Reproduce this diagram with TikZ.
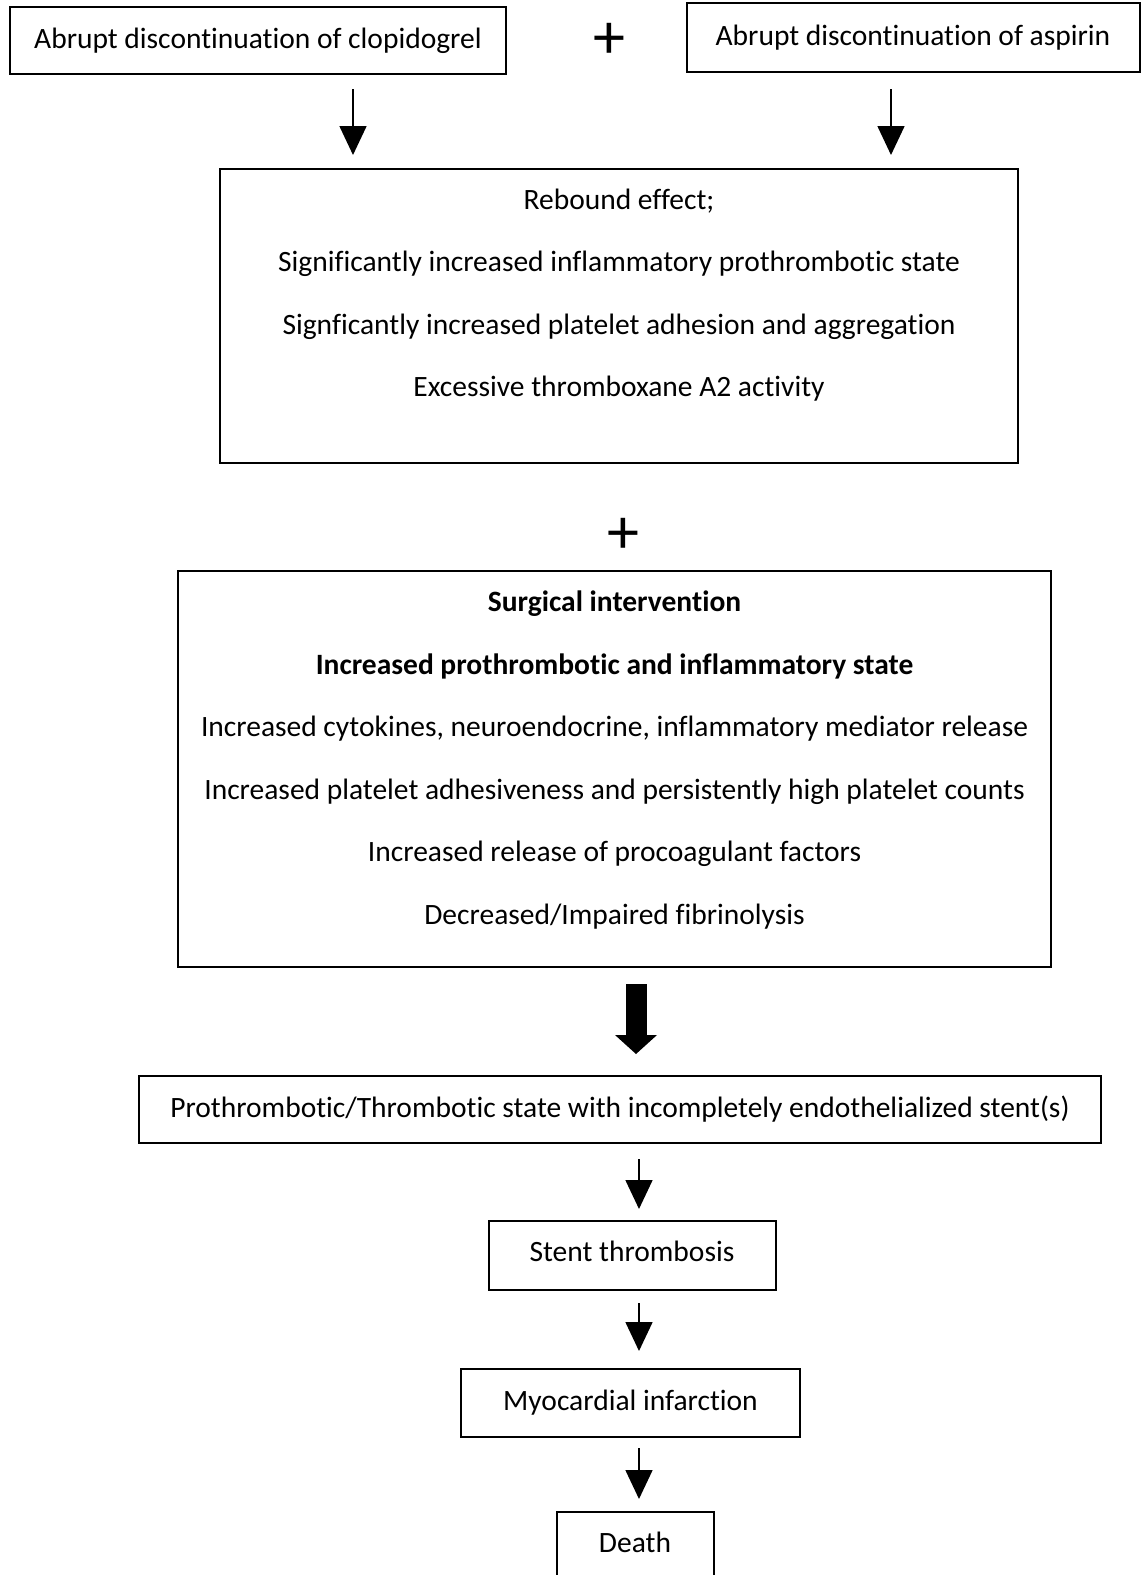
\documentclass[tikz,border=0pt]{standalone}
\usepackage{fontspec}
\setmainfont{Carlito}[Ligatures=NoCommon]
\usepackage{tikz}
\usetikzlibrary{arrows.meta}

\begin{document}
\begin{tikzpicture}[x=1pt, y=-1pt,
  every node/.style={font=\fontsize{29.5}{35}\selectfont, inner sep=0pt},
  frame/.style={draw, line width=2pt, rectangle},
  lines/.style={align=center, font=\fontsize{29.5}{62.5}\selectfont},
  plus/.style={font=\fontsize{64}{64}\selectfont},
  arr/.style={line width=1.6pt, -{Triangle[width=27pt,length=29pt]}},
  bigarr/.style={line width=21pt, -{Triangle[width=42pt,length=19pt,line width=0pt]}}]

\useasboundingbox (0,0) rectangle (1141,1575);

% Boxes
\node[frame, minimum width=496pt, minimum height=67pt] (clop) at (258,40.5) {Abrupt discontinuation of clopidogrel};
\node[frame, minimum width=453pt, minimum height=69pt] (asp) at (913,37.5) {Abrupt discontinuation of aspirin};
\node[frame, minimum width=798pt, minimum height=294pt] (rebound) at (619,316) {};
\node[frame, minimum width=873pt, minimum height=396pt] (surgery) at (614.5,769) {};
\node[frame, minimum width=962pt, minimum height=67pt] (state) at (620,1109.5) {Prothrombotic/Thrombotic state with incompletely endothelialized stent(s)};
\node[frame, minimum width=287pt, minimum height=69pt] (stent) at (632.5,1255.5) {};
\node (stenttxt) at (632,1251) {Stent thrombosis};
\node[frame, minimum width=339pt, minimum height=68pt] (mi) at (630.5,1403) {Myocardial infarction};
\node[frame, minimum width=157pt, minimum height=80pt] (death) at (635.5,1552) {};
\node (deathtxt) at (635,1542) {Death};

% Texts
\node[lines] (reboundtxt) at (619,295) {Rebound effect;\\
  Significantly increased inflammatory prothrombotic state\\
  Signficantly increased platelet adhesion and aggregation\\
  Excessive thromboxane A2 activity};
\node[lines] (surgerytxt) at (614.5,760) {\textbf{Surgical intervention}\\
  \textbf{Increased prothrombotic and inflammatory state}\\
  Increased cytokines, neuroendocrine, inflammatory mediator release\\
  Increased platelet adhesiveness and persistently high platelet counts\\
  Increased release of procoagulant factors\\
  Decreased/Impaired fibrinolysis};

\node[plus] (plusa) at (609,41) {+};
\node[plus] (plusb) at (623,536) {+};

% Arrows
\coordinate (xa) at (353,0);
\coordinate (xb) at (891,0);
\coordinate (xc) at (636,0);
\coordinate (xd) at (639,0);
\draw[arr, shorten <=14pt, shorten >=13pt] (clop.south -| xa) -- (rebound.north -| xa);
\draw[arr, shorten <=16pt, shorten >=13pt] (asp.south -| xb) -- (rebound.north -| xb);
\draw[bigarr, shorten <=16pt, shorten >=21pt] (surgery.south -| xc) -- (state.north -| xc);
\draw[arr, shorten <=15pt, shorten >=11pt] (state.south -| xd) -- (stent.north -| xd);
\draw[arr, shorten <=12pt, shorten >=17pt] (stent.south -| xd) -- (mi.north -| xd);
\draw[arr, shorten <=10pt, shorten >=12pt] (mi.south -| xd) -- (death.north -| xd);
\end{tikzpicture}
\end{document}
